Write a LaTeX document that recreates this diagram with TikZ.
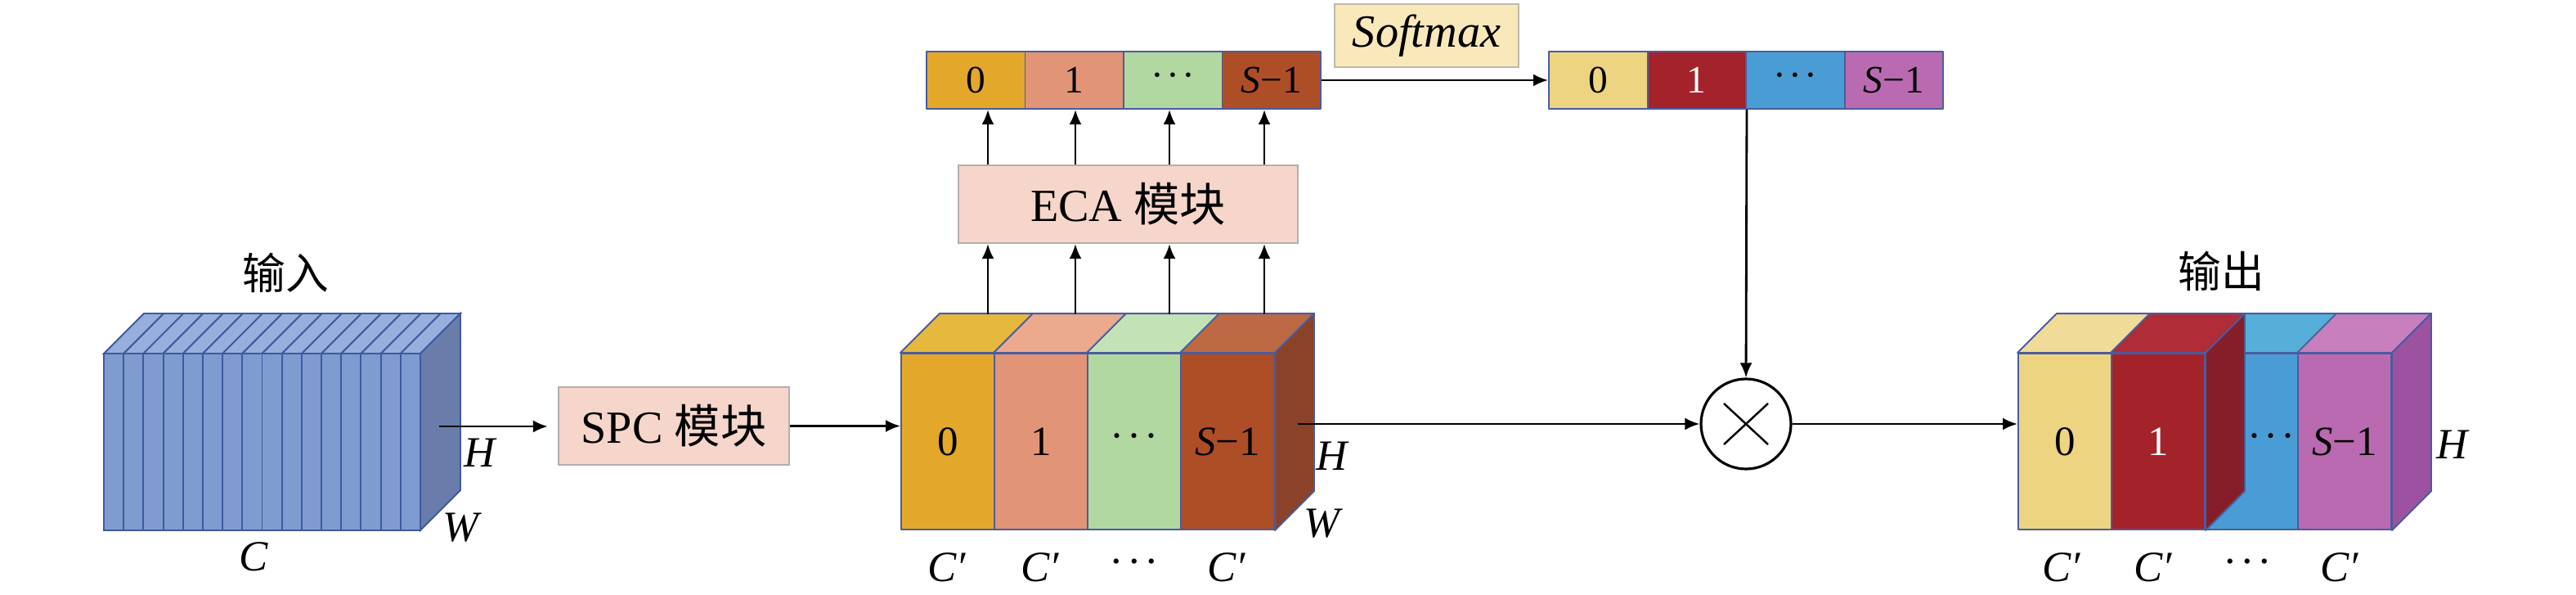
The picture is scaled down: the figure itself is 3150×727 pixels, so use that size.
\documentclass[tikz,border=0pt]{standalone}
\usepackage{fontspec}
\setmainfont{Liberation Serif}
\newfontfamily\cjk{Noto Sans CJK SC}
\usetikzlibrary{arrows.meta}
\definecolor{edgeb}{HTML}{4A5C9E}
\definecolor{inF}{HTML}{7F9BD0}
\definecolor{inT}{HTML}{97AFDC}
\definecolor{inS}{HTML}{6A7DAA}
\definecolor{inE}{HTML}{3E5A9E}
\definecolor{boxF}{HTML}{F6D6CB}
\definecolor{boxE}{HTML}{B5AEAC}
\definecolor{smF}{HTML}{F8E8BA}
\definecolor{smE}{HTML}{BFB9A8}
\definecolor{aF}{HTML}{E3A82A}\definecolor{aT}{HTML}{E6B83E}
\definecolor{bF}{HTML}{E29476}\definecolor{bT}{HTML}{EBA98E}
\definecolor{cF}{HTML}{B2D8A2}\definecolor{cT}{HTML}{C3E3B6}
\definecolor{dF}{HTML}{AE4E27}\definecolor{dT}{HTML}{BD6A44}\definecolor{dS}{HTML}{8A4328}
\definecolor{eF}{HTML}{EDD480}\definecolor{eT}{HTML}{F0DC98}
\definecolor{fF}{HTML}{A4222A}\definecolor{fT}{HTML}{B02C37}\definecolor{fS}{HTML}{861E27}
\definecolor{gF}{HTML}{4A9DD4}\definecolor{gT}{HTML}{56AFD8}
\definecolor{hF}{HTML}{BA6AB1}\definecolor{hT}{HTML}{C77FBE}\definecolor{hS}{HTML}{9D52A1}
\newcommand\mydots{·\kern0.07em·\kern0.07em·}
\newcommand\Cp{\textit{C}\kern0.05em′}
\tikzset{
 face/.style={draw=edgeb, line width=0.55pt, line join=round},
 slab/.style={face, rectangle, inner sep=0pt, minimum width=11.4mm, minimum height=21.5mm, font=\fontsize{14.5}{14.5}\selectfont},
 cell/.style={face, rectangle, inner sep=0pt, minimum width=12.05mm, minimum height=7mm, font=\fontsize{13.5}{13.5}\selectfont},
 blk/.style={draw=boxE, fill=boxF, line width=0.6pt, inner sep=0pt, font=\fontsize{16}{16}\selectfont},
 lbl/.style={inner sep=0pt, font=\fontsize{15}{15}\selectfont},
 conn/.style={line width=0.8pt, -{Latex[length=1.8mm,width=1.5mm]}},
 topface/.style={face, fill=#1},
}
\begin{document}
\begin{tikzpicture}[x=0.1mm,y=-0.1mm]
\useasboundingbox (0,0) rectangle (3150,727);
\fill[white] (0,0) rectangle (3150,727);

% ---------- input cube ----------
\foreach \i in {0,...,15}{
 \pgfmathsetmacro\xl{127+24.1875*\i}
 \filldraw[fill=inF, draw=inE, line width=0.55pt] (\xl,432) rectangle ++(24.1875,216);
 \filldraw[fill=inT, draw=inE, line width=0.55pt] (\xl,432) -- ++(49,-49) -- ++(24.1875,0) -- ++(-49,49) -- cycle;
}
\filldraw[fill=inS, draw=inE, line width=0.55pt] (514,432) -- (563,383) -- (563,599) -- (514,648) -- cycle;
\node[lbl] (inlbl) at (349,333) {\cjk 输入};
\node[lbl] (inH) at (588,553) {\textit{H}};
\node[lbl] (inW) at (565,645) {\textit{W}};
\node[lbl] (inC) at (310,680) {\textit{C}};
\coordinate (inout) at (537,521);

% ---------- SPC ----------
\node[blk, minimum width=28.2mm, minimum height=9.5mm] (spc) at (824,520.5) {SPC {\cjk 模块}};
\draw[conn, shorten >=1.2mm] (inout) -- (inout -| spc.west);

% ---------- middle cube ----------
\node[slab, fill=aF] (m0) at (1159,539.5) {0};
\node[slab, fill=bF] (m1) at (1273,539.5) {1};
\node[slab, fill=cF] (m2) at (1387,539.5) {\mydots};
\node[slab, fill=dF] (m3) at (1501,539.5) {\textit{S}−1};
\foreach \n/\c in {m0/aT,m1/bT,m2/cT,m3/dT}
 \filldraw[topface=\c] (\n.north west) -- ++(48,-48) -- ([shift={(48,-48)}]\n.north east) -- (\n.north east) -- cycle;
\filldraw[face, fill=dS] (m3.north east) -- ([shift={(48,-48)}]m3.north east) -- ([shift={(48,-48)}]m3.south east) -- (m3.south east) -- cycle;
\draw[conn] (spc.east) -- (spc.east -| m0.west);
\node[lbl] (mH) at (1630,557) {\textit{H}};
\node[lbl] (mW) at (1618,640) {\textit{W}};
\node[lbl] (mc0) at (1159,693) {\Cp};
\node[lbl] (mc1) at (1273,693) {\Cp};
\node[lbl] (mc2) at (1387,693) {\mydots};
\node[lbl] (mc3) at (1501,693) {\Cp};
\coordinate (t0) at (1208,384);
\coordinate (t1) at (1315,384);
\coordinate (t2) at (1430,384);
\coordinate (t3) at (1546,384);

% ---------- ECA and top vector ----------
\node[blk, minimum width=41.5mm, minimum height=9.5mm] (eca) at (1379.5,249.5) {ECA {\cjk 模块}};
\node[cell, fill=aF] (v0) at (1193.25,98) {0};
\node[cell, fill=bF] (v1) at (1313.75,98) {1};
\node[cell, fill=cF] (v2) at (1434.25,98) {\mydots};
\node[cell, fill=dF] (v3) at (1554.75,98) {\textit{S}−1};
\foreach \k in {0,1,2,3}{
 \draw[conn] (t\k) -- (t\k |- eca.south);
 \draw[conn] (eca.north -| t\k) -- (t\k |- v0.south);
}

% ---------- Softmax and right vector ----------
\node[blk, draw=smE, fill=smF, minimum width=22.5mm, minimum height=7.7mm] (sm) at (1744.5,43.5) {\textit{Softmax}};
\node[cell, fill=eF] (r0) at (1954.25,98) {0};
\node[cell, fill=fF, text=white] (r1) at (2074.75,98) {1};
\node[cell, fill=gF] (r2) at (2195.25,98) {\mydots};
\node[cell, fill=hF] (r3) at (2315.75,98) {\textit{S}−1};
\draw[conn] (v3.east) -- (r0.west);

% ---------- multiply ----------
\node[circle, draw, line width=0.9pt, minimum size=11mm, inner sep=0pt] (mul) at (2135,518) {};
\draw[line width=0.7pt] ([shift={(-27,-25)}]mul.center) -- ([shift={(27,25)}]mul.center);
\draw[line width=0.7pt] ([shift={(-27,25)}]mul.center) -- ([shift={(27,-25)}]mul.center);
\draw[conn] (r1.south east) -- (mul.north);
\coordinate (mout) at (1587,518);
\draw[conn] (mout) -- (mul.west);

% ---------- output cube ----------
\node[slab, fill=eF] (o0) at (2525,539.5) {0};
\filldraw[topface=eT] (o0.north west) -- ++(48,-48) -- ([shift={(48,-48)}]o0.north east) -- (o0.north east) -- cycle;
\node[slab, fill=gF] (o2) at (2753,539.5) {};
\filldraw[topface=gT] (o2.north west) -- ++(48,-48) -- ([shift={(48,-48)}]o2.north east) -- (o2.north east) -- cycle;
\node[slab, fill=hF] (o3) at (2867,539.5) {\textit{S}−1};
\filldraw[topface=hT] (o3.north west) -- ++(48,-48) -- ([shift={(48,-48)}]o3.north east) -- (o3.north east) -- cycle;
\filldraw[face, fill=hS] (o3.north east) -- ([shift={(48,-48)}]o3.north east) -- ([shift={(48,-48)}]o3.south east) -- (o3.south east) -- cycle;
\node[slab, fill=fF, text=white] (o1) at (2639,539.5) {1};
\filldraw[topface=fT] (o1.north west) -- ++(48,-48) -- ([shift={(48,-48)}]o1.north east) -- (o1.north east) -- cycle;
\filldraw[face, fill=fS] (o1.north east) -- ([shift={(48,-48)}]o1.north east) -- ([shift={(48,-48)}]o1.south east) -- (o1.south east) -- cycle;
\node[inner sep=0pt, font=\fontsize{14.5}{14.5}\selectfont] (o2t) at (2777,540) {\mydots};
\draw[conn] (mul.east) -- (mul.east -| o0.west);
\node[lbl] (outlbl) at (2716,331) {\cjk 输出};
\node[lbl] (oH) at (3000,543) {\textit{H}};
\node[lbl] (oc0) at (2522,693) {\Cp};
\node[lbl] (oc1) at (2634,693) {\Cp};
\node[lbl] (oc2) at (2748,693) {\mydots};
\node[lbl] (oc3) at (2862,693) {\Cp};
\end{tikzpicture}
\end{document}
